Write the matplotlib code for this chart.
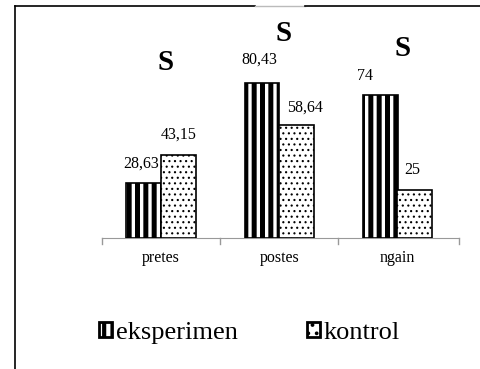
import matplotlib
matplotlib.use('Agg')
import matplotlib.pyplot as plt
from matplotlib.lines import Line2D
from matplotlib.patches import Patch
import numpy as np

categories = ['pretes', 'postes', 'ngain']
eksperimen = [28.63, 80.43, 74]
kontrol = [43.15, 58.64, 25]
eksperimen_labels = ['28,63', '80,43', '74']
kontrol_labels = ['43,15', '58,64', '25']
sig_marks = ['S', 'S', 'S']
sig_heights = [91, 106, 98]

plt.rcParams['font.family'] = ['Liberation Serif', 'DejaVu Serif']

fig = plt.figure(figsize=(4.8, 3.69), dpi=100)
fig.patch.set_facecolor('white')

# Frame around the chart area:
W, H = 480, 369
fig.add_artist(Line2D([15 / W, 255 / W], [1 - 6 / H, 1 - 6 / H], color='k', lw=1.2))
fig.add_artist(Line2D([255 / W, 305 / W], [1 - 6 / H, 1 - 6 / H], color='#bbbbbb', lw=1.0))
fig.add_artist(Line2D([305 / W, 1.0], [1 - 6 / H, 1 - 6 / H], color='k', lw=1.2))
fig.add_artist(Line2D([15 / W, 15 / W], [0, 1 - 6 / H], color='k', lw=1.2))

ax = fig.add_axes([102 / W, 1 - 238 / H, 357 / W, 193 / H])
ax.set_xlim(-0.5, 2.52)
ax.set_ylim(0, 100)

x = np.arange(len(categories))
width = 0.295
off = 0.147

plt.rcParams['hatch.linewidth'] = 3.6
b1 = ax.bar(x - off, eksperimen, width, color='white', edgecolor='black',
            hatch='||', linewidth=1.2, zorder=3)
plt.rcParams['hatch.linewidth'] = 0.8
b2 = ax.bar(x + off, kontrol, width, color='white', edgecolor='black',
            hatch='...', linewidth=1.2, zorder=3)

# Value labels:
label_dx_e = [-0.02, -0.02, -0.13]
label_dx_k = [0.0, 0.07, -0.02]
label_dy_e = [6, 8, 6]
label_dy_k = [6, 5, 6]
for i in range(len(categories)):
    ax.text(x[i] - off + label_dx_e[i], eksperimen[i] + label_dy_e[i], eksperimen_labels[i],
            ha='center', va='bottom', fontsize=11.5)
    ax.text(x[i] + off + label_dx_k[i], kontrol[i] + label_dy_k[i], kontrol_labels[i],
            ha='center', va='bottom', fontsize=11.5)
    ax.text(x[i] + 0.04, sig_heights[i], sig_marks[i], ha='center', va='center',
            fontsize=21, fontweight='bold', clip_on=False)

ax.spines[['top', 'right', 'left']].set_visible(False)
ax.spines['bottom'].set_color('#999999')
ax.set_yticks([])
ax.set_xticks(x)
ax.set_xticklabels(categories, fontsize=11.5)
ax.tick_params(axis='x', length=0, pad=9)
for b in [-0.5, 0.5, 1.5, 2.52]:
    ax.plot([b, b], [0, -3], color='#999999', lw=1, clip_on=False)

h1 = Patch(facecolor='white', edgecolor='black', hatch='||', linewidth=2, label='eksperimen')
h2 = Patch(facecolor='white', edgecolor='black', hatch='..', linewidth=2, label='kontrol')
leg = fig.legend(handles=[h1, h2], loc='center', bbox_to_anchor=(0.52, 1 - 333 / H), ncol=2,
                 frameon=False, fontsize=19, handlelength=0.5, handleheight=0.5,
                 handletextpad=0.15, columnspacing=2.6)
leg_patches = leg.get_patches()
if hasattr(leg_patches[0], 'set_hatch_linewidth'):
    leg_patches[0].set_hatch_linewidth(3.0)
    leg_patches[1].set_hatch_linewidth(1.5)

fig.savefig('out.png', dpi=100, facecolor='white')
